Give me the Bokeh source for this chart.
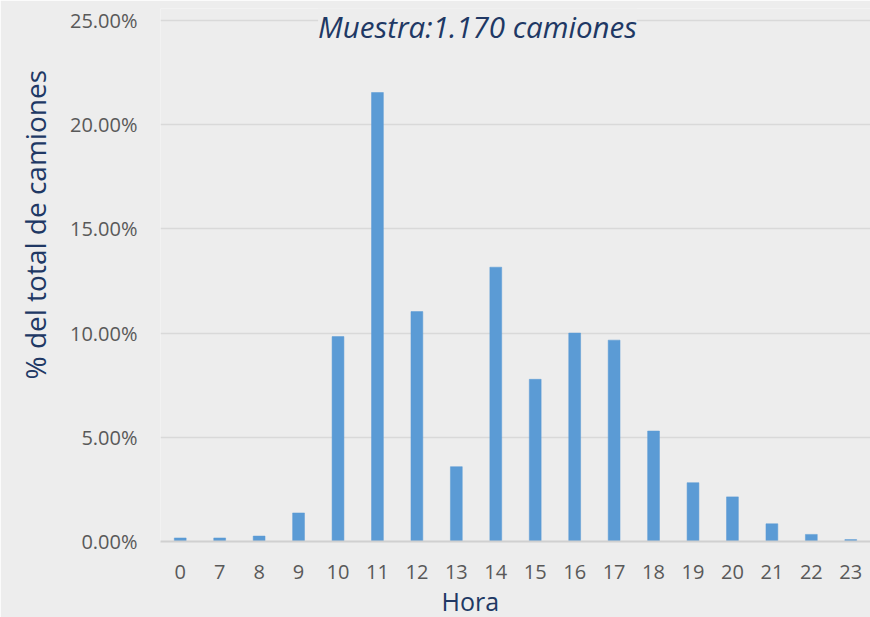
from bokeh.plotting import figure
from bokeh.models import Label, NumeralTickFormatter, FixedTicker, Range1d, Title
from bokeh.embed import file_html
from bokeh.resources import INLINE

horas = ["0", "7", "8", "9", "10", "11", "12", "13", "14", "15", "16", "17", "18", "19", "20", "21", "22", "23"]
porcentaje = [0.0017, 0.0017, 0.0026, 0.0137, 0.0983, 0.2154, 0.1103, 0.0359, 0.1316, 0.0778,
              0.1000, 0.0966, 0.0530, 0.0282, 0.0214, 0.0085, 0.0034, 0.0009]
y_ticks = [0.0, 0.05, 0.10, 0.15, 0.20, 0.25]

BG = "#EDEDED"
NAVY = "#203864"
GRAY = "#595959"
FONT = "Open Sans"

p = figure(x_range=horas, y_range=Range1d(0, 0.2557), width=870, height=617,
           output_backend="svg", toolbar_location=None,
           min_border_left=160, min_border_right=0, min_border_top=8, min_border_bottom=75)
p.background_fill_color = BG
p.border_fill_color = BG
p.outline_line_color = None
p.x_range.range_padding = 0

p.vbar(x=horas, top=porcentaje, width=0.3, fill_color="#5B9BD5", line_color="#5B9BD5", line_width=0.5)

p.yaxis.ticker = FixedTicker(ticks=y_ticks)
p.yaxis.formatter = NumeralTickFormatter(format="0.00%")
p.yaxis.axis_line_color = None
p.yaxis.major_tick_line_color = None
p.yaxis.minor_tick_line_color = None
p.yaxis.major_tick_out = 0
p.yaxis.minor_tick_out = 0
p.yaxis.major_label_standoff = 23
p.yaxis.major_label_text_font = FONT
p.yaxis.major_label_text_font_size = "20px"
p.yaxis.major_label_text_color = GRAY

p.xaxis.axis_line_color = "#D0D0D0"
p.xaxis.axis_line_width = 2
p.xaxis.major_tick_line_color = None
p.xaxis.minor_tick_line_color = None
p.xaxis.major_tick_out = 0
p.xaxis.minor_tick_out = 0
p.xaxis.major_label_standoff = 23
p.xaxis.major_label_text_font = FONT
p.xaxis.major_label_text_font_size = "20px"
p.xaxis.major_label_text_color = GRAY

p.xgrid.grid_line_color = None
p.ygrid.grid_line_color = "#D9D9D9"
p.ygrid.grid_line_width = 1.5

p.add_layout(Title(text="% del total de camiones", align="left", offset=162, standoff=26,
                   text_font=FONT, text_font_size="28px", text_font_style="normal",
                   text_color=NAVY), "left")
p.add_layout(Title(text="Hora", align="left", offset=281, standoff=0,
                   text_font=FONT, text_font_size="25px", text_font_style="normal",
                   text_color=NAVY), "below")

p.add_layout(Label(x=317, y=515, x_units="screen", y_units="screen",
                   text="Muestra:1.170 camiones", text_align="center", text_baseline="middle",
                   text_font=FONT, text_font_style="italic", text_font_size="29.5px",
                   text_color=NAVY, background_fill_color=BG))

open("out.html", "w").write(file_html(p, INLINE))
